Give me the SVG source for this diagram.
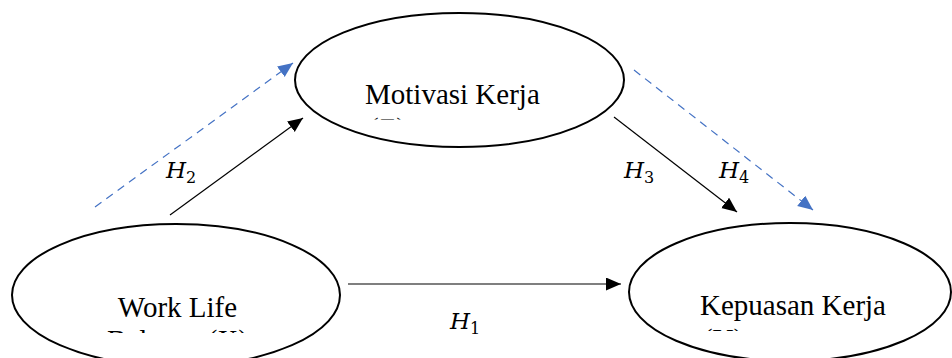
<svg xmlns="http://www.w3.org/2000/svg" width="952" height="358" viewBox="0 0 952 358">
<style>
.node{fill:#fff;stroke:#000;stroke-width:2}
.lbl{font-family:"Liberation Serif","Times New Roman",serif;font-size:29px;fill:#000}
.h{font-family:"DejaVu Serif",serif;font-style:italic;font-size:23px;fill:#000}
.sub{font-size:16px;font-style:normal}
.solid{stroke:#000;stroke-width:1.2;fill:none}
.dash{stroke:#4472C4;stroke-width:1.2;stroke-dasharray:8 6;fill:none}
</style>
<defs>
<marker id="ab" markerUnits="userSpaceOnUse" markerWidth="16" markerHeight="14" refX="15" refY="6.5" orient="auto">
<path d="M0,0 L15,6.5 L0,13 z" fill="#000"/>
</marker>
<marker id="abl" markerUnits="userSpaceOnUse" markerWidth="16" markerHeight="14" refX="15" refY="6.5" orient="auto">
<path d="M0,0 L15,6.5 L0,13 z" fill="#4472C4"/>
</marker>
<clipPath id="cz"><rect x="340" y="100" width="120" height="19.5"/></clipPath>
<clipPath id="cx"><rect x="90" y="320" width="180" height="13"/></clipPath>
<clipPath id="cy"><rect x="690" y="320" width="80" height="11"/></clipPath>
</defs>
<rect width="952" height="358" fill="#fff"/>
<g id="connectors">
<line class="dash" x1="95" y1="207" x2="293" y2="63" marker-end="url(#abl)"/>
<line class="solid" x1="170" y1="215" x2="303" y2="118" marker-end="url(#ab)"/>
<line class="solid" x1="614" y1="117" x2="737" y2="212" marker-end="url(#ab)"/>
<line class="dash" x1="634" y1="70" x2="813" y2="210" marker-end="url(#abl)"/>
<line class="solid" x1="348" y1="284" x2="621" y2="284" marker-end="url(#ab)"/>
<text class="h" x="166" y="178">H<tspan class="sub" dy="5">2</tspan></text>
<text class="h" x="624" y="178">H<tspan class="sub" dy="5">3</tspan></text>
<text class="h" x="719" y="178">H<tspan class="sub" dy="5">4</tspan></text>
<text class="h" x="450" y="329">H<tspan class="sub" dy="5">1</tspan></text>
</g>
<g id="motivasi">
<ellipse class="node" cx="459.5" cy="80" rx="164.5" ry="67"/>
<text class="lbl" x="365" y="104">Motivasi Kerja</text>
<text class="lbl" x="369" y="138" clip-path="url(#cz)">(Z)</text>
</g>
<g id="worklife">
<ellipse class="node" cx="176" cy="295" rx="164" ry="71"/>
<text class="lbl" x="177.5" y="317" text-anchor="middle">Work Life</text>
<text class="lbl" x="177.5" y="350" text-anchor="middle" clip-path="url(#cx)">Balance (X)</text>
</g>
<g id="kepuasan">
<ellipse class="node" cx="790" cy="292" rx="161" ry="69"/>
<text class="lbl" x="700" y="315">Kepuasan Kerja</text>
<text class="lbl" x="703" y="349" clip-path="url(#cy)">(Y)</text>
</g>
</svg>
